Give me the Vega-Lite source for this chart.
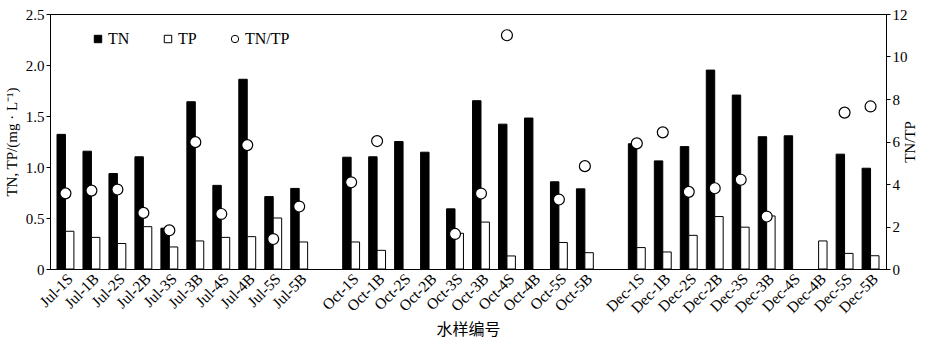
{
  "$schema": "https://vega.github.io/schema/vega-lite/v6.json",
  "width": 836,
  "height": 255,
  "autosize": {"type": "none"},
  "padding": {"left": 50, "top": 14, "right": 43, "bottom": 71},
  "background": "white",
  "config": {
    "view": {"stroke": "black", "strokeWidth": 1},
    "font": "Liberation Serif",
    "axis": {"grid": false, "domainColor": "black", "tickColor": "black", "labelColor": "black", "titleColor": "black", "labelFont": "Liberation Serif", "titleFont": "Liberation Serif", "titleFontWeight": "normal"}
  },
  "data": {
    "values": [
      {"sample": "Jul-1S", "TN": 1.32, "TP": 0.37, "ratio": 3.56},
      {"sample": "Jul-1B", "TN": 1.155, "TP": 0.31, "ratio": 3.69},
      {"sample": "Jul-2S", "TN": 0.936, "TP": 0.25, "ratio": 3.74},
      {"sample": "Jul-2B", "TN": 1.10, "TP": 0.415, "ratio": 2.64},
      {"sample": "Jul-3S", "TN": 0.40, "TP": 0.216, "ratio": 1.82},
      {"sample": "Jul-3B", "TN": 1.64, "TP": 0.275, "ratio": 5.97},
      {"sample": "Jul-4S", "TN": 0.82, "TP": 0.31, "ratio": 2.59},
      {"sample": "Jul-4B", "TN": 1.86, "TP": 0.317, "ratio": 5.83},
      {"sample": "Jul-5S", "TN": 0.71, "TP": 0.50, "ratio": 1.41},
      {"sample": "Jul-5B", "TN": 0.79, "TP": 0.265, "ratio": 2.94},
      {"sample": "Oct-1S", "TN": 1.096, "TP": 0.265, "ratio": 4.08},
      {"sample": "Oct-1B", "TN": 1.10, "TP": 0.183, "ratio": 6.02},
      {"sample": "Oct-2S", "TN": 1.25, "TP": null, "ratio": null},
      {"sample": "Oct-2B", "TN": 1.145, "TP": null, "ratio": null},
      {"sample": "Oct-3S", "TN": 0.59, "TP": 0.35, "ratio": 1.65},
      {"sample": "Oct-3B", "TN": 1.65, "TP": 0.46, "ratio": 3.55},
      {"sample": "Oct-4S", "TN": 1.42, "TP": 0.128, "ratio": 11.0},
      {"sample": "Oct-4B", "TN": 1.48, "TP": null, "ratio": null},
      {"sample": "Oct-5S", "TN": 0.855, "TP": 0.26, "ratio": 3.27},
      {"sample": "Oct-5B", "TN": 0.786, "TP": 0.16, "ratio": 4.84},
      {"sample": "Dec-1S", "TN": 1.228, "TP": 0.21, "ratio": 5.91},
      {"sample": "Dec-1B", "TN": 1.06, "TP": 0.167, "ratio": 6.43},
      {"sample": "Dec-2S", "TN": 1.20, "TP": 0.33, "ratio": 3.63},
      {"sample": "Dec-2B", "TN": 1.95, "TP": 0.514, "ratio": 3.80},
      {"sample": "Dec-3S", "TN": 1.705, "TP": 0.41, "ratio": 4.20},
      {"sample": "Dec-3B", "TN": 1.297, "TP": 0.52, "ratio": 2.47},
      {"sample": "Dec-4S", "TN": 1.306, "TP": null, "ratio": null},
      {"sample": "Dec-4B", "TN": null, "TP": 0.275, "ratio": null},
      {"sample": "Dec-5S", "TN": 1.126, "TP": 0.153, "ratio": 7.36},
      {"sample": "Dec-5B", "TN": 0.988, "TP": 0.13, "ratio": 7.65}
    ]
  },
  "encoding": {
    "x": {
      "field": "sample",
      "type": "nominal",
      "scale": {
        "domain": ["Jul-1S", "Jul-1B", "Jul-2S", "Jul-2B", "Jul-3S", "Jul-3B", "Jul-4S", "Jul-4B", "Jul-5S", "Jul-5B", " ",
                   "Oct-1S", "Oct-1B", "Oct-2S", "Oct-2B", "Oct-3S", "Oct-3B", "Oct-4S", "Oct-4B", "Oct-5S", "Oct-5B", "  ",
                   "Dec-1S", "Dec-1B", "Dec-2S", "Dec-2B", "Dec-3S", "Dec-3B", "Dec-4S", "Dec-4B", "Dec-5S", "Dec-5B"],
        "paddingInner": 0.35,
        "paddingOuter": 0.27
      },
      "axis": {
        "title": "水样编号",
        "titleFont": "Noto Sans CJK SC",
        "titleFontSize": 16,
        "titlePadding": 5,
        "labelAngle": -45,
        "labelFontSize": 15.5,
        "labelPadding": 2,
        "ticks": false
      }
    }
  },
  "layer": [
    {
      "transform": [
        {"fold": ["TN", "TP"], "as": ["series", "value"]},
        {"filter": "isValid(datum.value)"}
      ],
      "mark": {"type": "bar", "stroke": "black", "strokeWidth": 1},
      "encoding": {
        "xOffset": {"field": "series", "type": "nominal", "scale": {"domain": ["TN", "TP"], "paddingInner": 0, "paddingOuter": 0}},
        "y": {
          "field": "value",
          "type": "quantitative",
          "scale": {"domain": [0, 2.5], "nice": false},
          "axis": {
            "title": "TN, TP/(mg · L⁻¹)",
            "titleFontSize": 15,
            "titlePadding": 6,
            "values": [0, 0.5, 1, 1.5, 2, 2.5],
            "labelExpr": "datum.value == 0 ? '0' : format(datum.value, '.1f')",
            "labelFontSize": 15,
            "tickSize": 4
          }
        },
        "fill": {
          "field": "series",
          "type": "nominal",
          "scale": {"domain": ["TN", "TP", "TN/TP"], "range": ["black", "white", "white"]},
          "legend": {
            "title": null,
            "orient": "none",
            "legendX": 40,
            "legendY": 17,
            "direction": "horizontal",
            "labelFontSize": 16,
            "labelFont": "Liberation Serif",
            "labelColor": "black",
            "symbolSize": 55,
            "symbolStrokeColor": "black",
            "symbolStrokeWidth": 1,
            "columnPadding": 30,
            "labelOffset": 2,
            "encode": {
              "symbols": {
                "update": {
                  "shape": {"signal": "datum.value === 'TN/TP' ? 'circle' : 'square'"},
                  "stroke": {"value": "black"},
                  "strokeWidth": {"value": 1}
                }
              }
            }
          }
        }
      }
    },
    {
      "transform": [{"filter": "isValid(datum.ratio)"}],
      "mark": {"type": "point", "filled": true, "stroke": "black", "strokeWidth": 1.2, "size": 120, "opacity": 1},
      "encoding": {
        "y": {
          "field": "ratio",
          "type": "quantitative",
          "scale": {"domain": [0, 12], "nice": false},
          "axis": {
            "orient": "right",
            "title": "TN/TP",
            "titleAngle": 270,
            "titleFontSize": 15,
            "titlePadding": 10,
            "values": [0, 2, 4, 6, 8, 10, 12],
            "labelFontSize": 15,
            "tickSize": 4
          }
        },
        "fill": {"datum": "TN/TP"}
      }
    }
  ],
  "resolve": {"scale": {"y": "independent"}}
}
